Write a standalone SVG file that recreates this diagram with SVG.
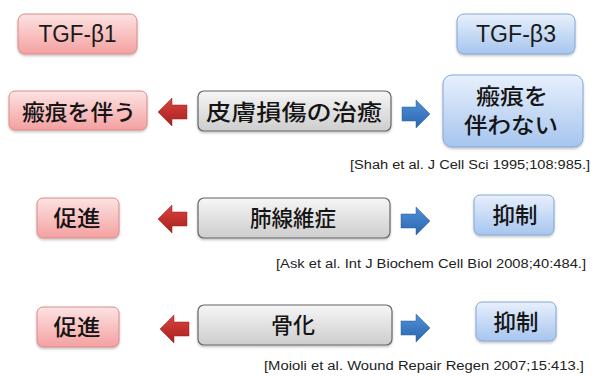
<svg xmlns="http://www.w3.org/2000/svg" width="597" height="376" viewBox="0 0 597 376">
<defs>
  <linearGradient id="gPink" x1="0" y1="0" x2="0" y2="1">
    <stop offset="0" stop-color="#fde3e3"/>
    <stop offset="1" stop-color="#f4a0a0"/>
  </linearGradient>
  <linearGradient id="gBlue" x1="0" y1="0" x2="0" y2="1">
    <stop offset="0" stop-color="#e8f0fc"/>
    <stop offset="1" stop-color="#a6c5ef"/>
  </linearGradient>
  <linearGradient id="gGray" x1="0" y1="0" x2="0" y2="1">
    <stop offset="0" stop-color="#f6f6f6"/>
    <stop offset="1" stop-color="#cdcdcd"/>
  </linearGradient>
  <linearGradient id="gRed" x1="0" y1="0" x2="0" y2="1">
    <stop offset="0" stop-color="#d9443f"/>
    <stop offset="1" stop-color="#a8201e"/>
  </linearGradient>
  <linearGradient id="gBlueA" x1="0" y1="0" x2="0" y2="1">
    <stop offset="0" stop-color="#4f8fd6"/>
    <stop offset="1" stop-color="#2c66b0"/>
  </linearGradient>
  <filter id="sh" x="-10%" y="-10%" width="120%" height="130%">
    <feDropShadow dx="0" dy="1.5" stdDeviation="1.2" flood-color="#000" flood-opacity="0.25"/>
  </filter>
</defs>
<style>
  .pink{fill:url(#gPink);stroke:#db8a8a;stroke-width:1;filter:url(#sh)}
  .blue{fill:url(#gBlue);stroke:#82a6d6;stroke-width:1;filter:url(#sh)}
  .gray{fill:url(#gGray);stroke:#666;stroke-width:1.2;filter:url(#sh)}
  .ra{fill:url(#gRed);stroke:#9a1c1a;stroke-width:0.5}
  .ba{fill:url(#gBlueA);stroke:#285d9f;stroke-width:0.5}
  .lat{font-family:"Liberation Sans",Arial,sans-serif;font-size:23px;fill:#1a1a1a;text-anchor:middle}
  .jp{font-family:"Noto Sans CJK JP","Noto Sans",sans-serif;font-size:22px;font-weight:500;fill:#151515;text-anchor:middle}
  .cit{font-family:"Liberation Sans",Arial,sans-serif;font-size:12.5px;fill:#222;text-anchor:start}
</style>

<g id="tgfb1"><rect class="pink" x="18" y="14" width="119" height="40" rx="7"/><text class="lat" x="77.5" y="42" textLength="78" lengthAdjust="spacingAndGlyphs">TGF-β1</text></g>
<g id="tgfb3"><rect class="blue" x="457" y="14" width="118" height="40" rx="7"/><text class="lat" x="516" y="42" textLength="80" lengthAdjust="spacingAndGlyphs">TGF-β3</text></g>

<g id="scar"><rect class="pink" x="9" y="91" width="138" height="39" rx="6"/><text class="jp" x="79" y="120" textLength="114" lengthAdjust="spacingAndGlyphs">瘢痕を伴う</text></g>
<g id="wound"><rect class="gray" x="198" y="91" width="193" height="40" rx="6"/><text class="jp" x="294" y="120" textLength="176" lengthAdjust="spacingAndGlyphs">皮膚損傷の治癒</text></g>
<g id="noscar"><rect class="blue" x="443" y="75" width="140" height="72" rx="9"/><text class="jp" x="512" y="104" font-size="24" textLength="72" lengthAdjust="spacingAndGlyphs">瘢痕を</text><text class="jp" x="511" y="133" font-size="24" textLength="94" lengthAdjust="spacingAndGlyphs">伴わない</text></g>

<g id="promote1"><rect class="pink" x="37" y="198" width="82" height="40" rx="6"/><text class="jp" x="77" y="226" textLength="47" lengthAdjust="spacingAndGlyphs">促進</text></g>
<g id="fibrosis"><rect class="gray" x="198" y="198" width="192" height="40" rx="6"/><text class="jp" x="293" y="226" textLength="86" lengthAdjust="spacingAndGlyphs">肺線維症</text></g>
<g id="inhibit1"><rect class="blue" x="474" y="195" width="80" height="40" rx="6"/><text class="jp" x="515" y="223" textLength="45" lengthAdjust="spacingAndGlyphs">抑制</text></g>

<g id="promote2"><rect class="pink" x="37" y="307" width="82" height="40" rx="6"/><text class="jp" x="77" y="335" textLength="47" lengthAdjust="spacingAndGlyphs">促進</text></g>
<g id="ossification"><rect class="gray" x="198" y="305" width="194" height="40" rx="6"/><text class="jp" x="293" y="333" textLength="44" lengthAdjust="spacingAndGlyphs">骨化</text></g>
<g id="inhibit2"><rect class="blue" x="476" y="302" width="80" height="39" rx="6"/><text class="jp" x="516" y="330" textLength="45" lengthAdjust="spacingAndGlyphs">抑制</text></g>

<g id="connectors">
  <path class="ra" d="M158,112 L172,98 L172,105 L187,105 L187,119 L172,119 L172,126 Z"/>
  <path class="ba" d="M430,114 L416,100 L416,107 L402,107 L402,121 L416,121 L416,128 Z"/>
  <path class="ra" d="M158,219 L172,205 L172,212 L187,212 L187,226 L172,226 L172,233 Z"/>
  <path class="ba" d="M430,221 L416,207 L416,214 L401,214 L401,228 L416,228 L416,235 Z"/>
  <path class="ra" d="M160,329 L174,315 L174,322 L189,322 L189,336 L174,336 L174,343 Z"/>
  <path class="ba" d="M430,328 L416,314 L416,321 L401,321 L401,335 L416,335 L416,342 Z"/>
</g>

<text class="cit" x="350" y="169" textLength="240" lengthAdjust="spacingAndGlyphs">[Shah et al. J Cell Sci 1995;108:985.]</text>
<text class="cit" x="276" y="268" textLength="310" lengthAdjust="spacingAndGlyphs">[Ask et al. Int J Biochem Cell Biol 2008;40:484.]</text>
<text class="cit" x="264" y="370" textLength="320" lengthAdjust="spacingAndGlyphs">[Moioli et al. Wound Repair Regen 2007;15:413.]</text>
</svg>
